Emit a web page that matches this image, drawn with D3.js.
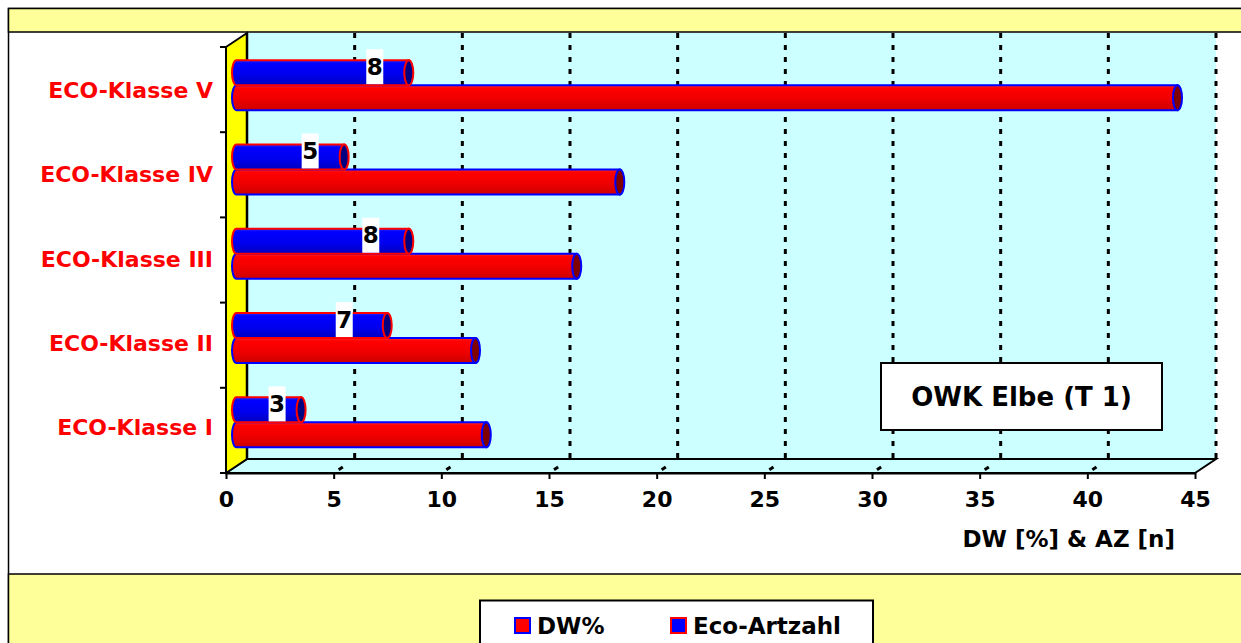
<!DOCTYPE html>
<html>
<head>
<meta charset="utf-8">
<script src="https://cdn.jsdelivr.net/npm/d3@7"></script>
<style>
  html, body { margin: 0; padding: 0; background: #fff; }
  svg { display: block; }
  text { font-family: "DejaVu Sans", Verdana, sans-serif; font-weight: bold; }
</style>
</head>
<body>
<svg id="chart" width="1241" height="643"></svg>
<script>
// ECO classes, bottom to top
const categories = ["ECO-Klasse I", "ECO-Klasse II", "ECO-Klasse III", "ECO-Klasse IV", "ECO-Klasse V"];
// Dominance share per class [%]
const dwPercent = [11.6, 11.1, 15.8, 17.8, 43.7];
// Number of species per class
const ecoArtzahl = [3, 7, 8, 5, 8];
const xTickValues = [0, 5, 10, 15, 20, 25, 30, 35, 40, 45];
const seriesNames = ["DW%", "Eco-Artzahl"];
const axisTitle = "DW [%] & AZ [n]";
const boxTitle = "OWK Elbe (T 1)";

const svg = d3.select("#chart");

// ---- frame and bands ----
svg.append("rect").attr("x", 8.5).attr("y", 8.5).attr("width", 1250).attr("height", 650)
  .attr("fill", "#fff").attr("stroke", "#000").attr("stroke-width", 1.5);
svg.append("rect").attr("x", 8.5).attr("y", 8.5).attr("width", 1250).attr("height", 23.5)
  .attr("fill", "#ffff99").attr("stroke", "#000").attr("stroke-width", 1.5);
svg.append("rect").attr("x", 8.5).attr("y", 574).attr("width", 1250).attr("height", 80)
  .attr("fill", "#ffff99").attr("stroke", "#000").attr("stroke-width", 1.5);

// ---- 3D plot geometry ----
const depth = { dx: 21, dy: -14 };
const x = d3.scaleLinear().domain([0, 45]).range([226, 1195]);      // front edge
const xBack = v => x(v) + depth.dx;
const xBar = v => x(v) + depth.dx / 2;                              // bars sit mid-depth
const yTop = 47, yBottom = 473;                                     // front edge extent
const order = categories.slice().reverse();                         // V at top
const yCat = d3.scaleBand().domain(order).range([yTop, yBottom]);
const yBarBand = d3.scaleBand().domain(order).range([43, 464.5]);

const g = svg.append("g");

// back wall
g.append("rect")
  .attr("x", xBack(0)).attr("y", yTop + depth.dy)
  .attr("width", xBack(45) - xBack(0)).attr("height", yBottom - yTop)
  .attr("fill", "#ccffff");

// floor
const floorPts = [[x(0), yBottom], [x(45), yBottom], [xBack(45), yBottom + depth.dy], [xBack(0), yBottom + depth.dy]];
g.append("polygon").attr("points", floorPts.map(p => p.join(",")).join(" "))
  .attr("fill", "#ccffff").attr("stroke", "#000").attr("stroke-width", 2);

// left side wall
const wallPts = [[x(0), yTop], [xBack(0), yTop + depth.dy], [xBack(0), yBottom + depth.dy], [x(0), yBottom]];
g.append("polygon").attr("points", wallPts.map(p => p.join(",")).join(" "))
  .attr("fill", "#ffff00").attr("stroke", "#000").attr("stroke-width", 2);

// gridlines on the back wall and floor
xTickValues.forEach(v => {
  g.append("line")
    .attr("x1", xBack(v)).attr("x2", xBack(v))
    .attr("y1", yTop + depth.dy).attr("y2", yBottom + depth.dy)
    .attr("stroke", "#000").attr("stroke-width", v === 0 ? 2.5 : 3)
    .attr("stroke-dasharray", v === 0 ? null : "5,7");
  if (v > 0 && v < 45) {
    g.append("line")
      .attr("x1", x(v)).attr("y1", yBottom)
      .attr("x2", xBack(v)).attr("y2", yBottom + depth.dy)
      .attr("stroke", "#000").attr("stroke-width", 3)
      .attr("stroke-dasharray", "0,6,5,20");
  }
});
// back floor edge
g.append("line").attr("x1", xBack(0)).attr("x2", xBack(45))
  .attr("y1", yBottom + depth.dy).attr("y2", yBottom + depth.dy)
  .attr("stroke", "#000").attr("stroke-width", 2);

// ---- value axis (front) ----
const xAxis = d3.axisBottom(x).tickValues(xTickValues).tickSize(6).tickSizeOuter(0).tickPadding(12);
const ax = g.append("g").attr("transform", `translate(0,${yBottom})`).call(xAxis);
ax.select(".domain").attr("stroke", "#000").attr("stroke-width", 2);
ax.selectAll(".tick line").attr("stroke", "#000").attr("stroke-width", 2);
ax.selectAll(".tick text").attr("fill", "#000").attr("font-size", 22)
  .attr("font-family", "DejaVu Sans").attr("font-weight", "bold").attr("dy", "0.71em");

g.append("text").attr("x", 1175).attr("y", 547).attr("text-anchor", "end")
  .attr("font-size", 23).attr("fill", "#000").text(axisTitle);

// ---- category axis ----
g.append("line").attr("x1", x(0)).attr("x2", x(0)).attr("y1", yTop).attr("y2", yBottom)
  .attr("stroke", "#000").attr("stroke-width", 2);
const catTicks = order.map(c => yCat(c)).concat([yBottom]);
catTicks.forEach(yy => {
  g.append("line").attr("x1", x(0) - 6).attr("x2", x(0)).attr("y1", yy).attr("y2", yy)
    .attr("stroke", "#000").attr("stroke-width", 2);
});
order.forEach(c => {
  g.append("text").attr("x", 213).attr("y", yBarBand(c) + yBarBand.bandwidth() / 2 + 7)
    .attr("text-anchor", "end").attr("dominant-baseline", "middle")
    .attr("font-size", 22).attr("fill", "#ff0000").text(c);
});

// ---- cylinder bars ----
const defs = svg.append("defs");
function grad(id, stops) {
  const lg = defs.append("linearGradient").attr("id", id).attr("x1", 0).attr("y1", 0).attr("x2", 0).attr("y2", 1);
  stops.forEach(([o, c]) => lg.append("stop").attr("offset", o).attr("stop-color", c));
}
grad("gRed", [[0, "#ff2a2a"], [0.12, "#ff0000"], [0.55, "#f00000"], [1, "#cc0000"]]);
grad("gBlue", [[0, "#2a2aff"], [0.12, "#0000ff"], [0.55, "#0000f0"], [1, "#0000c0"]]);

const barH = 25, rx = 4.5;
function cylinder(v, yT, fill, capFill, stroke) {
  const x0 = xBar(0), x1 = xBar(v), ry = barH / 2, yB = yT + barH;
  g.append("path")
    .attr("d", `M${x0},${yT} L${x1},${yT} L${x1},${yB} L${x0},${yB} A${rx},${ry} 0 0 1 ${x0},${yT} Z`)
    .attr("fill", fill).attr("stroke", stroke).attr("stroke-width", 2);
  g.append("ellipse").attr("cx", x1).attr("cy", yT + ry).attr("rx", rx).attr("ry", ry)
    .attr("fill", capFill).attr("stroke", stroke).attr("stroke-width", 2);
}

// horizontal nudges for the count labels
const labelNudge = [-24, -43, -38, -34, -34];

categories.forEach((c, i) => {
  const mid = yBarBand(c) + yBarBand.bandwidth() / 2;
  const blueTop = mid - barH, redTop = mid;
  cylinder(dwPercent[i], redTop, "url(#gRed)", "#800000", "#0000ff");
  cylinder(ecoArtzahl[i], blueTop, "url(#gBlue)", "#000080", "#ff0000");
  const lx = xBar(ecoArtzahl[i]) + labelNudge[i];
  const ly = blueTop + barH / 2 - 6;
  g.append("rect").attr("x", lx - 8.5).attr("y", ly - 17.5).attr("width", 17).attr("height", 35).attr("fill", "#fff");
  g.append("text").attr("x", lx).attr("y", ly).attr("text-anchor", "middle").attr("dominant-baseline", "central")
    .attr("font-size", 23).attr("fill", "#000").text(ecoArtzahl[i]);
});

// ---- title box ----
g.append("rect").attr("x", 881).attr("y", 363).attr("width", 281).attr("height", 67)
  .attr("fill", "#fff").attr("stroke", "#000").attr("stroke-width", 2);
g.append("text").attr("x", 1021.5).attr("y", 397).attr("text-anchor", "middle").attr("dominant-baseline", "central")
  .attr("font-size", 26).attr("fill", "#000").text(boxTitle);

// ---- legend ----
const lg = svg.append("g");
lg.append("rect").attr("x", 480).attr("y", 600.5).attr("width", 393).attr("height", 60)
  .attr("fill", "#fff").attr("stroke", "#000").attr("stroke-width", 2);
const legendItems = [
  { name: seriesNames[0], x: 514, fill: "#ff0000", stroke: "#0000ff" },
  { name: seriesNames[1], x: 670, fill: "#0000ff", stroke: "#ff0000" }
];
legendItems.forEach(d => {
  lg.append("rect").attr("x", d.x + 1).attr("y", 618).attr("width", 15).attr("height", 15)
    .attr("fill", d.fill).attr("stroke", d.stroke).attr("stroke-width", 2);
  lg.append("text").attr("x", d.x + 23).attr("y", 625.5).attr("dominant-baseline", "central")
    .attr("font-size", 23).attr("fill", "#000").text(d.name);
});
</script>
</body>
</html>
